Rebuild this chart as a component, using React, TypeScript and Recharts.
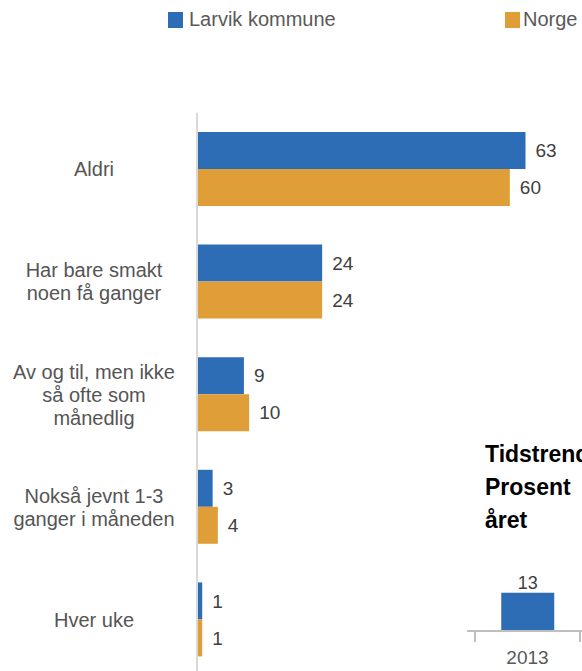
import React from 'react';
import { BarChart, Bar, XAxis, YAxis, LabelList } from 'recharts';

const categories = [
  'Aldri',
  'Har bare smakt\nnoen få ganger',
  'Av og til, men ikke\nså ofte som\nmånedlig',
  'Nokså jevnt 1-3\nganger i måneden',
  'Hver uke',
];
const larvik = [63, 24, 9, 3, 1];
const norge = [60, 24, 10, 4, 1];

const trendYears = ['2013'];
const trendValues = [13];

const BLUE = '#2d6db5';
const ORANGE = '#e09e38';
const FONT = '"Liberation Sans", Arial, sans-serif';

const data = categories.map((c, i) => ({ label: c, larvik: larvik[i], norge: norge[i] }));
const trendData = trendYears.map((y, i) => ({ year: y, value: trendValues[i] }));

const CategoryTick = (props: any) => {
  const { y, payload } = props;
  const lines = String(payload.value).split('\n');
  return (
    <g>
      {lines.map((line, i) => (
        <text
          key={i}
          x={94}
          y={y + (i - (lines.length - 1) / 2) * 23}
          textAnchor="middle"
          dominantBaseline="central"
          fontSize={20}
          fontFamily={FONT}
          fill="#555555"
        >
          {line}
        </text>
      ))}
    </g>
  );
};

const YearTick = (props: any) => {
  const { x, y, payload } = props;
  const half = payload.offset ?? 52;
  return (
    <g>
      <line x1={x - half} x2={x - half} y1={y - 8} y2={y + 3} stroke="#bfbfbf" strokeWidth={2} />
      <line x1={x + half} x2={x + half} y1={y - 8} y2={y + 3} stroke="#bfbfbf" strokeWidth={2} />
      <text x={x} y={y + 12} dy="0.71em" textAnchor="middle" fontSize={19} fontFamily={FONT} fill="#595959">
        {payload.value}
      </text>
    </g>
  );
};

export default function App() {
  return (
    <div style={{ position: 'absolute', left: 0, top: 0, width: 582, height: 671, overflow: 'hidden', background: '#fff', fontFamily: FONT }}>
      {/* legend */}
      <div style={{ position: 'absolute', left: 168, top: 12, width: 15, height: 16, background: BLUE }} />
      <div style={{ position: 'absolute', left: 189, top: 8, fontSize: 20, color: '#595959', whiteSpace: 'nowrap' }}>Larvik kommune</div>
      <div style={{ position: 'absolute', left: 505, top: 12, width: 15, height: 16, background: ORANGE }} />
      <div style={{ position: 'absolute', left: 523, top: 8, fontSize: 20, color: '#595959', whiteSpace: 'nowrap' }}>Norge</div>

      <div style={{ position: 'absolute', left: 0, top: 0 }}>
        <BarChart
          width={582}
          height={676}
          data={data}
          layout="vertical"
          margin={{ top: 113, right: 20, bottom: 0, left: 0 }}
          barCategoryGap={19}
          barGap={0}
        >
          <XAxis type="number" domain={[0, 70]} hide />
          <YAxis
            type="category"
            dataKey="label"
            width={197}
            axisLine={{ stroke: '#d9d9d9', strokeWidth: 2 }}
            tickLine={false}
            tick={<CategoryTick />}
            interval={0}
          />
          <Bar dataKey="larvik" fill={BLUE} isAnimationActive={false}>
            <LabelList dataKey="larvik" position="right" offset={10} fontSize={19} fontFamily={FONT} fill="#404040" />
          </Bar>
          <Bar dataKey="norge" fill={ORANGE} isAnimationActive={false}>
            <LabelList dataKey="norge" position="right" offset={10} fontSize={19} fontFamily={FONT} fill="#404040" />
          </Bar>
        </BarChart>
      </div>

      {/* partly visible trend panel */}
      <div style={{ position: 'absolute', left: 485, top: 438, fontSize: 23, fontWeight: 700, lineHeight: '33px', color: '#000', whiteSpace: 'nowrap' }}>
        <div>Tidstrend</div>
        <div>Prosent</div>
        <div>året</div>
      </div>
      <div style={{ position: 'absolute', left: 467, top: 520 }}>
        <BarChart
          width={123}
          height={151}
          data={trendData}
          margin={{ top: 23, right: 0, bottom: 0, left: 0 }}
          barCategoryGap="25%"
        >
          <YAxis type="number" domain={[0, 30]} hide />
          <XAxis
            dataKey="year"
            height={40}
            padding={{ left: 8, right: 10 }}
            axisLine={{ stroke: '#bfbfbf', strokeWidth: 2 }}
            tickLine={false}
            tick={<YearTick />}
          />
          <Bar dataKey="value" fill={BLUE} isAnimationActive={false}>
            <LabelList dataKey="value" position="top" offset={4} fontSize={18} fontFamily={FONT} fill="#404040" />
          </Bar>
        </BarChart>
      </div>
    </div>
  );
}
